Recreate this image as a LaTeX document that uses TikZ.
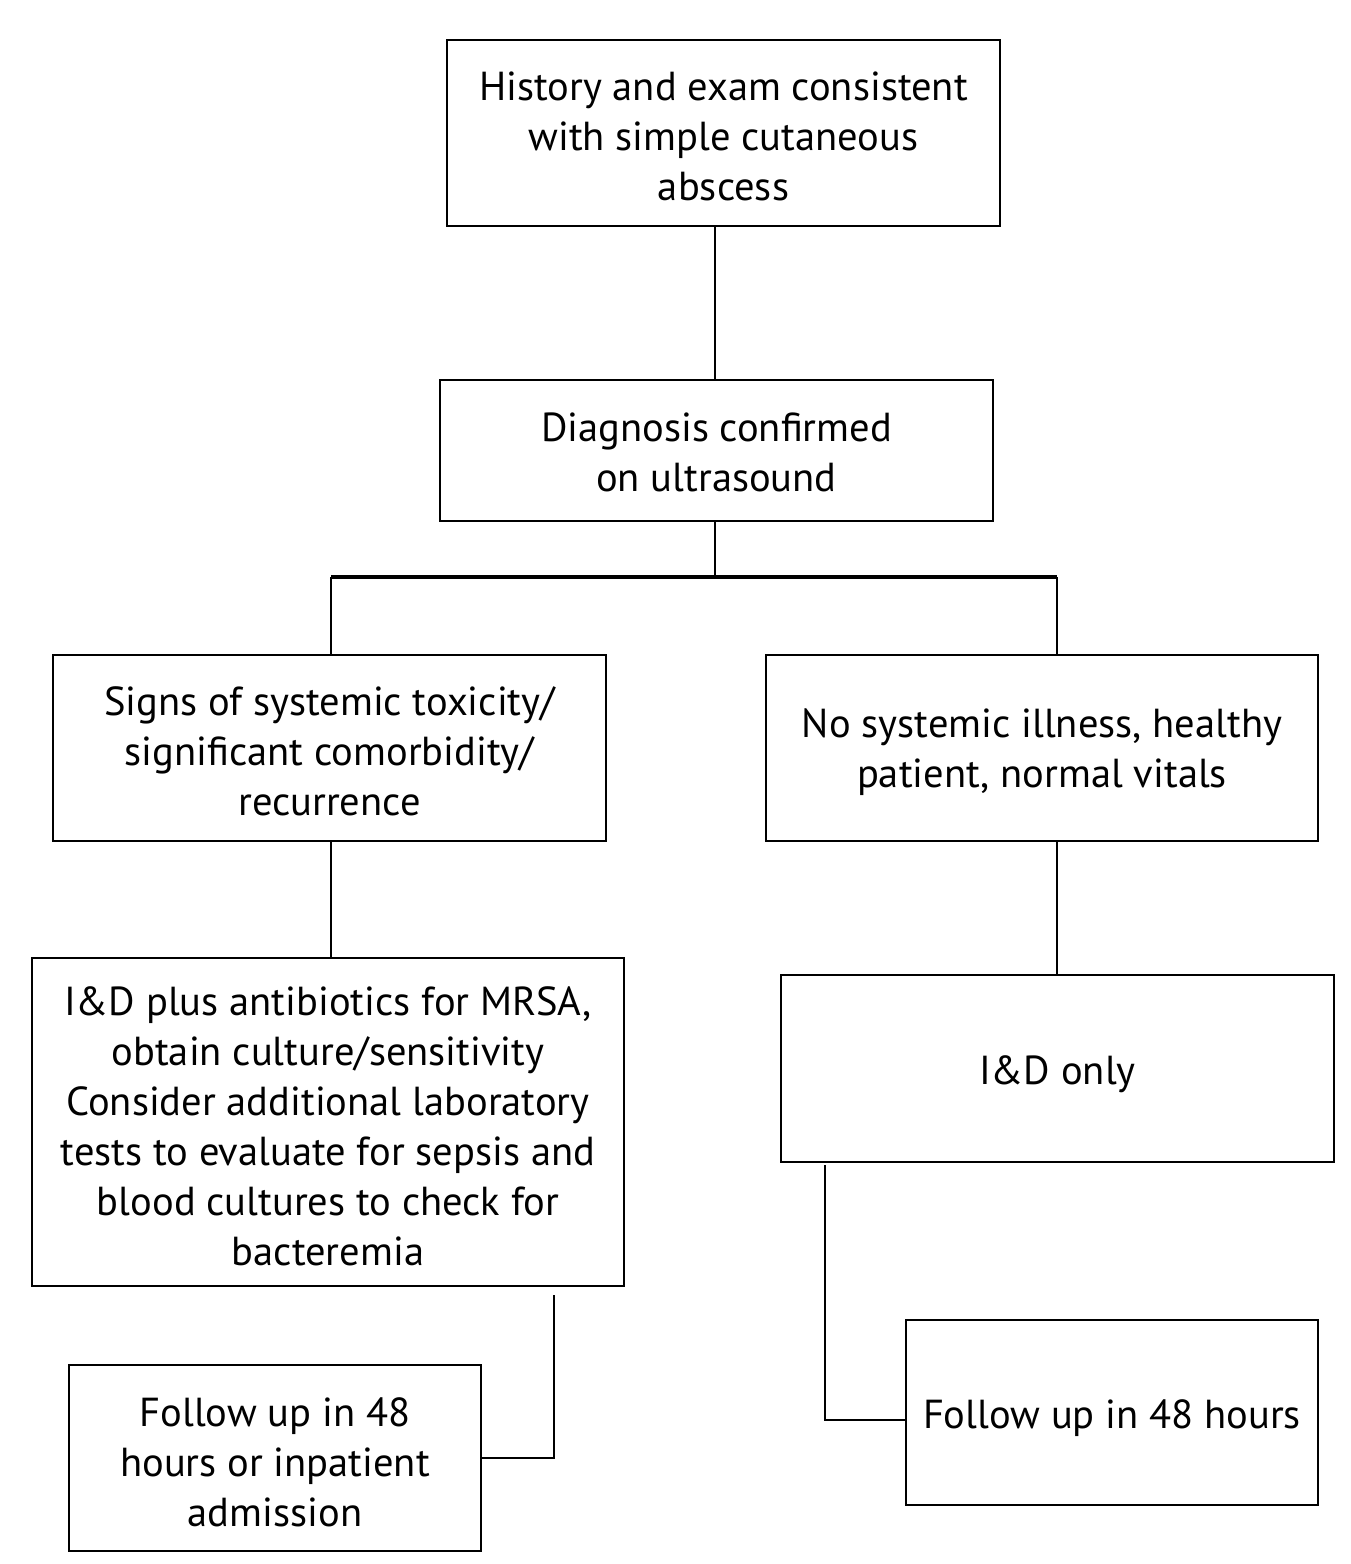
\documentclass[tikz,border=0pt]{standalone}
\usepackage{fontspec}
\setmainfont{PT Sans}
\begin{document}
\begin{tikzpicture}[x=1pt,y=-1pt,
  box/.style={draw=black,line width=2pt,rectangle,inner sep=0pt},
  txt/.style={inner sep=0pt,align=center,font=\fontsize{40.5}{50}\selectfont},
  conn/.style={draw=black,line width=2.6pt}]
\useasboundingbox (0,0) rectangle (1350,1564);
\node[box,minimum width=553,minimum height=186] (top) at (723.5,133) {};
\node[box,minimum width=553,minimum height=141] (diag) at (716.5,450.5) {};
\node[box,minimum width=553,minimum height=186] (signs) at (329.5,748) {};
\node[box,minimum width=552,minimum height=186] (nosys) at (1042,748) {};
\node[box,minimum width=592,minimum height=328] (ida) at (328,1122) {};
\node[box,minimum width=553,minimum height=187] (idonly) at (1057.5,1068.5) {};
\node[box,minimum width=412,minimum height=186] (fl) at (275,1458) {};
\node[box,minimum width=412,minimum height=185] (fr) at (1112,1412.5) {};
\node[txt] (topt) at ([yshift=-3pt]top.center) {History and exam consistent\\with simple cutaneous\\abscess};
\node[txt] (diagt) at ([yshift=-2pt]diag.center) {Diagnosis confirmed\\on ultrasound};
\node[txt] (signst) at ([yshift=-3pt]signs.center) {Signs of systemic toxicity/\\significant comorbidity/\\recurrence};
\node[txt] (nosyst) at ([yshift=-4pt]nosys.center) {No systemic illness, healthy\\patient, normal vitals};
\node[txt] (idat) at ([yshift=-4pt]ida.center) {I\&D plus antibiotics for MRSA,\\obtain culture/sensitivity\\Consider additional laboratory\\tests to evaluate for sepsis and\\blood cultures to check for\\bacteremia};
\node[txt] (idonlyt) at ([yshift=-6pt]idonly.center) {I\&D only};
\node[txt] (flt) at ([yshift=-4pt]fl.center) {Follow up in 48\\hours or inpatient\\admission};
\node[txt] (frt) at ([yshift=-6pt]fr.center) {Follow up in 48 hours};
\coordinate (j) at (715,577);
\coordinate (bl) at (331,577);
\coordinate (br) at (1057,577);
\coordinate (c1) at (554,1295);
\coordinate (c2) at (825,1165);
\coordinate (c2b) at (825,1420);
\draw[conn] (top.south -| j) -- (diag.north -| j);
\draw[conn] (diag.south -| j) -- (j);
\draw[draw=black,line width=3.5pt] (bl) -- (br);
\draw[conn] (bl) -- (bl |- signs.north);
\draw[conn] (br) -- (br |- nosys.north);
\draw[conn] (bl |- signs.south) -- (bl |- ida.north);
\draw[conn] (br |- nosys.south) -- (br |- idonly.north);
\draw[conn] (c1) |- (fl.east);
\draw[conn] (c2) -- (c2b) -- (c2b -| fr.west);
\end{tikzpicture}
\end{document}
